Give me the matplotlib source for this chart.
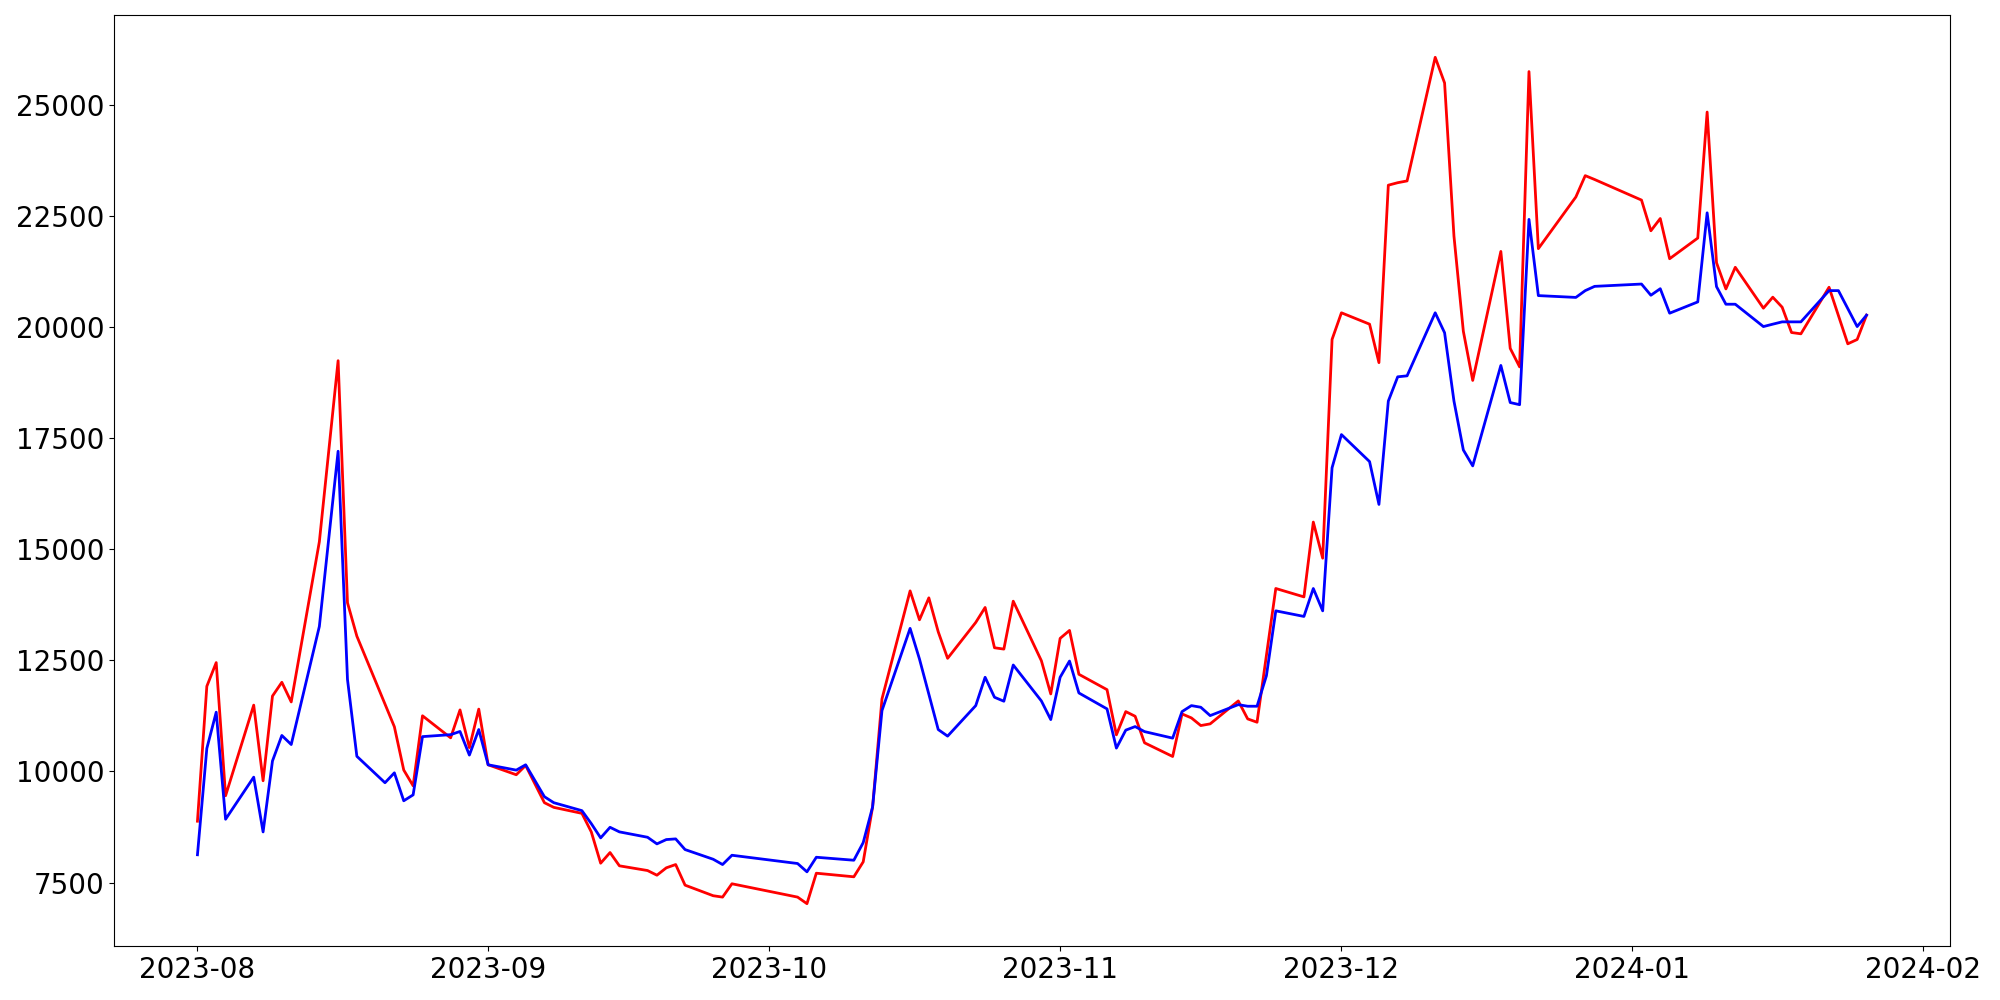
import matplotlib
matplotlib.use("Agg")
import matplotlib.pyplot as plt
import pandas as pd

dates = [
    "2023-08-01", "2023-08-02", "2023-08-03", "2023-08-04", "2023-08-07", "2023-08-08",
    "2023-08-09", "2023-08-10", "2023-08-11", "2023-08-14", "2023-08-16", "2023-08-17",
    "2023-08-18", "2023-08-21", "2023-08-22", "2023-08-23", "2023-08-24", "2023-08-25",
    "2023-08-28", "2023-08-29", "2023-08-30", "2023-08-31", "2023-09-01", "2023-09-04",
    "2023-09-05", "2023-09-07", "2023-09-08", "2023-09-11", "2023-09-12", "2023-09-13",
    "2023-09-14", "2023-09-15", "2023-09-18", "2023-09-19", "2023-09-20", "2023-09-21",
    "2023-09-22", "2023-09-25", "2023-09-26", "2023-09-27", "2023-10-04", "2023-10-05",
    "2023-10-06", "2023-10-10", "2023-10-11", "2023-10-12", "2023-10-13", "2023-10-16",
    "2023-10-17", "2023-10-18", "2023-10-19", "2023-10-20", "2023-10-23", "2023-10-24",
    "2023-10-25", "2023-10-26", "2023-10-27", "2023-10-30", "2023-10-31", "2023-11-01",
    "2023-11-02", "2023-11-03", "2023-11-06", "2023-11-07", "2023-11-08", "2023-11-09",
    "2023-11-10", "2023-11-13", "2023-11-14", "2023-11-15", "2023-11-16", "2023-11-17",
    "2023-11-20", "2023-11-21", "2023-11-22", "2023-11-23", "2023-11-24", "2023-11-27",
    "2023-11-28", "2023-11-29", "2023-11-30", "2023-12-01", "2023-12-04", "2023-12-05",
    "2023-12-06", "2023-12-07", "2023-12-08", "2023-12-11", "2023-12-12", "2023-12-13",
    "2023-12-14", "2023-12-15", "2023-12-18", "2023-12-19", "2023-12-20", "2023-12-21",
    "2023-12-22", "2023-12-26", "2023-12-27", "2023-12-28", "2024-01-02", "2024-01-03",
    "2024-01-04", "2024-01-05", "2024-01-08", "2024-01-09", "2024-01-10", "2024-01-11",
    "2024-01-12", "2024-01-15", "2024-01-16", "2024-01-17", "2024-01-18", "2024-01-19",
    "2024-01-22", "2024-01-23", "2024-01-24", "2024-01-25", "2024-01-26",
]

red_values = [
    8880, 11917, 12450, 9454, 11493, 9791,
    11697, 12007, 11565, 15171, 19245, 13797,
    13045, 11516, 11006, 10032, 9677, 11253,
    10757, 11385, 10537, 11403, 10150, 9926,
    10135, 9297, 9192, 9057, 8640, 7935,
    8175, 7876, 7770, 7665, 7831, 7905,
    7441, 7203, 7172, 7472, 7172, 7024,
    7710, 7629, 7966, 9201, 11632, 14064,
    13413, 13907, 13143, 12546, 13354, 13691,
    12784, 12754, 13832, 12492, 11745, 12995,
    13174, 12187, 11841, 10824, 11347, 11242,
    10645, 10337, 11295, 11205, 11033, 11071,
    11587, 11183, 11108, 12613, 14118, 13929,
    15613, 14800, 19724, 20323, 20067, 19201,
    23195, 23251, 23291, 26073, 25496, 22048,
    19908, 18801, 21704, 19522, 19106, 25752,
    21767, 22930, 23410, 23323, 22860, 22169,
    22445, 21540, 22005, 24841, 21450, 20860,
    21347, 20427, 20674, 20449, 19879, 19850,
    20898, 20261, 19625, 19722, 20270,
]

blue_values = [
    8125, 10519, 11334, 8925, 9872, 8639,
    10236, 10810, 10606, 13265, 17207, 12070,
    10341, 9746, 9969, 9340, 9473, 10784,
    10828, 10900, 10368, 10943, 10150, 10030,
    10150, 9432, 9297, 9118, 8826, 8505,
    8743, 8640, 8519, 8370, 8467, 8482,
    8242, 8024, 7905, 8114, 7928, 7741,
    8069, 8002, 8399, 9201, 11370, 13220,
    12530, 11738, 10943, 10795, 11482, 12120,
    11670, 11581, 12396, 11587, 11168, 12120,
    12485, 11767, 11408, 10525, 10930, 11010,
    10897, 10750, 11347, 11482, 11445, 11257,
    11504, 11468, 11468, 12155, 13615, 13489,
    14118, 13615, 16835, 17582, 16974, 16010,
    18336, 18882, 18904, 20323, 19874, 18336,
    17236, 16877, 19138, 18303, 18255, 22425,
    20710, 20669, 20822, 20918, 20970, 20718,
    20865, 20314, 20568, 22573, 20912, 20516,
    20516, 20013, 20067, 20119, 20119, 20119,
    20822, 20822, 20418, 20013, 20270,
]

x = pd.to_datetime(dates)

fig = plt.figure(figsize=(20, 10), dpi=100)
ax = fig.add_axes([0.057, 0.054, 0.918, 0.931])
ax.plot(x, red_values, color="red", linewidth=2)
ax.plot(x, blue_values, color="blue", linewidth=2)
ax.tick_params(axis="both", labelsize=20)

fig.savefig("out.png", dpi=100)
